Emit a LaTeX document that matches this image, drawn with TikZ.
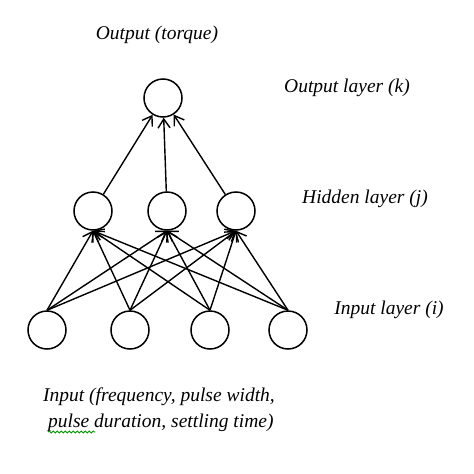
\documentclass[tikz,border=0pt]{standalone}
\usepackage{fontspec}
\setmainfont{Liberation Serif}
\usetikzlibrary{arrows.meta,decorations.pathmorphing}

\tikzset{
  neuron/.style={draw, circle, minimum size=38pt, inner sep=0pt, line width=1.5pt},
  link/.style={line width=1.4pt, -{Straight Barb[length=9pt,width=12pt,line width=1.4pt]}},
  lbl/.style={font=\fontsize{19.5}{24}\selectfont\itshape, inner sep=0pt},
  spell/.style={green!60!black, line width=0.8pt, decorate,
    decoration={snake, amplitude=1pt, segment length=4pt}}
}

\begin{document}
\begin{tikzpicture}[x=1pt, y=-1pt]
        \useasboundingbox (0,0) rectangle (474,474);
        % neurons
        \node[neuron] (o) at (163,98) {};
        \foreach \n/\x in {1/93, 2/167, 3/236}
            \node[neuron] (h\n) at (\x,211) {};
        \foreach \n/\x in {1/47, 2/130, 3/210, 4/288}
            \node[neuron] (i\n) at (\x,330) {};
        % input to hidden, every pair
        \foreach \i in {1,...,4}
            \foreach \j in {1,2,3}
                \draw[link] (i\i.north) -- (h\j.south);
        % hidden to output
        \foreach \j in {1,2,3}
            \draw[link] (h\j) -- (o);
        % texts
        \node[lbl] (tout) at (157,35) {Output (torque)};
        \node[lbl] (tok) at (347,88) {Output layer (k)};
        \node[lbl] (thj) at (365,199) {Hidden layer (j)};
        \node[lbl] (tii) at (389,310) {Input layer (i)};
        \node[lbl, anchor=west] (tin1) at (43,397) {Input (frequency, pulse width,};
        \node[lbl, anchor=west] (tin2) at (48,423) {pulse duration, settling time)};
        \draw[spell] (48,432) -- (95,432);
\end{tikzpicture}
\end{document}
